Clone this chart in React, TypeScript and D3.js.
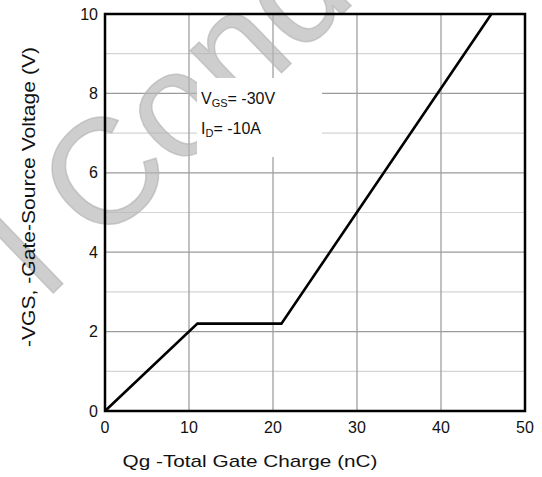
import React from "react";
import * as d3 from "d3";

const chargeNC = [0, 11, 21, 46];
const gateVolt = [0, 2.2, 2.2, 10];
const xTicks = [0, 10, 20, 30, 40, 50];
const yTicks = [0, 2, 4, 6, 8, 10];
const yMinor = [1, 3, 5, 7, 9];
const xTitle = "Qg -Total Gate Charge (nC)";
const yTitle = "-VGS, -Gate-Source Voltage (V)";
const watermark = "l Cond";

const W = 542;
const H = 477;
const FONT = "'Liberation Sans', Arial, sans-serif";

export default function App() {
  const x = d3.scaleLinear().domain([0, 50]).range([105, 525]);
  const y = d3.scaleLinear().domain([0, 10]).range([411, 14]);
  const line = d3
    .line<number>()
    .x((_, i) => x(chargeNC[i]))
    .y((d) => y(d));
  const path = line(gateVolt) || "";

  return (
    <svg
      width={W}
      height={H}
      style={{ position: "absolute", left: 0, top: 0, background: "#fff" }}
      fontFamily={FONT}
    >
      <rect x={0} y={0} width={W} height={H} fill="#fff" />
      {/* minor horizontal grid */}
      {yMinor.map((v) => (
        <line key={"ym" + v} x1={x(0)} x2={x(50)} y1={y(v)} y2={y(v)} stroke="#d4d4d4" strokeWidth={1.2} />
      ))}
      {/* major horizontal grid */}
      {yTicks.slice(1, -1).map((v) => (
        <line key={"yg" + v} x1={x(0)} x2={x(50)} y1={y(v)} y2={y(v)} stroke="#9a9a9a" strokeWidth={1.3} />
      ))}
      {/* vertical grid */}
      {xTicks.slice(1, -1).map((v) => (
        <line key={"xg" + v} x1={x(v)} x2={x(v)} y1={y(0)} y2={y(10)} stroke="#a0a0a0" strokeWidth={1.3} />
      ))}
      {/* watermark */}
      <text
        transform="translate(46,300) rotate(-44)"
        fontSize={150}
        fill="#b4b4b4"
        fillOpacity={0.65}
        stroke="#b4b4b4"
        strokeOpacity={0.65}
        strokeWidth={1.5}
        fontFamily={FONT}
      >
        {watermark}
      </text>
      {/* annotation box */}
      <rect x={197} y={78} width={125} height={79} fill="#fff" />
      <text x={201} y={104} fontSize={16} fill="#111">
        V<tspan fontSize={11} dy={3}>GS</tspan>
        <tspan dy={-3}>= -30V</tspan>
      </text>
      <text x={201} y={134} fontSize={16} fill="#111">
        I<tspan fontSize={11} dy={3}>D</tspan>
        <tspan dy={-3}>= -10A</tspan>
      </text>
      {/* curve */}
      <path d={path} fill="none" stroke="#000" strokeWidth={2.6} strokeLinejoin="miter" />
      {/* border */}
      <rect x={x(0)} y={y(10)} width={x(50) - x(0)} height={y(0) - y(10)} fill="none" stroke="#000" strokeWidth={2.5} />
      {/* y ticks */}
      {yTicks.map((v) => (
        <text key={"yt" + v} x={98} y={y(v)} dy="0.35em" textAnchor="end" fontSize={16} fill="#111">
          {v}
        </text>
      ))}
      {/* x ticks */}
      {xTicks.map((v) => (
        <text key={"xt" + v} x={x(v)} y={433} textAnchor="middle" fontSize={16} fill="#111">
          {v}
        </text>
      ))}
      {/* axis titles */}
      <text x={250} y={467} textAnchor="middle" fontSize={17} fill="#111" textLength={255} lengthAdjust="spacingAndGlyphs">
        {xTitle}
      </text>
      <text
        transform="translate(35,197) rotate(-90)"
        textAnchor="middle"
        fontSize={18}
        fill="#111"
        textLength={300}
        lengthAdjust="spacingAndGlyphs"
      >
        {yTitle}
      </text>
    </svg>
  );
}
